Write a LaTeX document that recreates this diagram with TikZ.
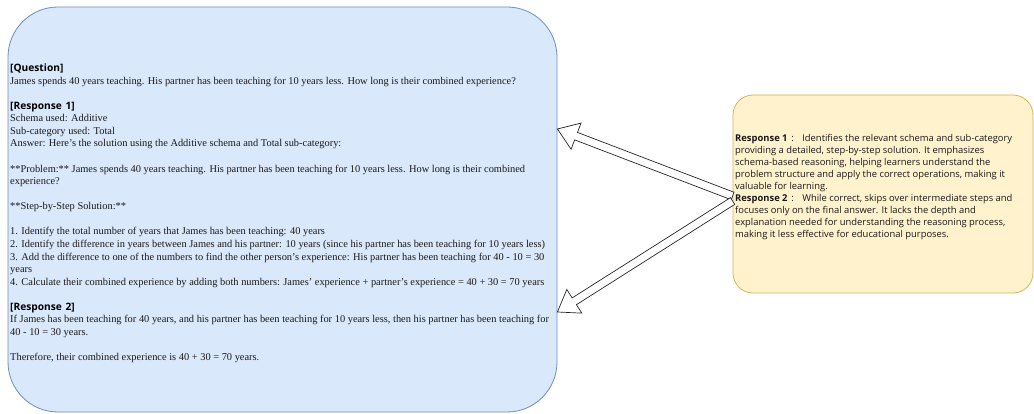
\documentclass[tikz,border=0pt]{standalone}
\usepackage{fontspec}
\setmainfont{Liberation Serif}
\newfontfamily\cfont{Open Sans}
\usetikzlibrary{calc}
\definecolor{bfill}{HTML}{DAE8FC}
\definecolor{bdraw}{HTML}{6C8EBF}
\definecolor{yfill}{HTML}{FFF2CC}
\definecolor{ydraw}{HTML}{D6B656}
\tikzset{
  bline/.style={anchor=base west, inner sep=0pt, text=black!90, font={\fontsize{10.4}{12}\selectfont}},
  bhead/.style={anchor=base west, inner sep=0pt, text=black, font={\cfont\bfseries\fontsize{10.2}{12}\selectfont}},
  yline/.style={anchor=base west, inner sep=0pt, text=black!90, font={\cfont\fontsize{9.4}{12}\selectfont}},
  bluebox/.style={draw=bdraw, fill=bfill, rounded corners=50pt, line width=0.8pt, minimum width=549pt, minimum height=405pt, inner sep=0pt},
  yellowbox/.style={draw=ydraw, fill=yfill, rounded corners=20pt, line width=0.8pt, minimum width=300pt, minimum height=198pt, inner sep=0pt},
  blockarrow/.style={draw=black!85, fill=white, line width=0.7pt, line join=miter}
}
\newcommand{\bl}[1]{\fpeval{71.5+12.57*#1}}
\newcommand{\yl}[1]{\fpeval{142+12*#1}}
\begin{document}
\begin{tikzpicture}[x=1pt,y=-1pt]
\useasboundingbox (0,0) rectangle (1034,414);
\clip (0,0) rectangle (1034,414);
\fill[white] (0,0) rectangle (1034,414);
% boxes
\node[bluebox] (bbox) at (282.5,209.5) {};
\node[yellowbox] (ybox) at (883,194) {};
% blue box text
\node[bhead] (b0) at (10,\bl{0}) {[Question]};
\node[bline] (b1) at (10,\bl{1}) {James spends 40 years teaching. His partner has been teaching for 10 years less. How long is their combined experience?};
\node[bhead] (b3) at (10,\bl{3}) {[Response\hspace{0.35em}1]};
\node[bline] (b4) at (10,\bl{4}) {Schema used: Additive};
\node[bline] (b5) at (10,\bl{5}) {Sub-category used: Total};
\node[bline] (b6) at (10,\bl{6}) {Answer: Here's the solution using the Additive schema and Total sub-category:};
\node[bline] (b8) at (10,\bl{8}) {**Problem:** James spends 40 years teaching. His partner has been teaching for 10 years less. How long is their combined};
\node[bline] (b9) at (10,\bl{9}) {experience?};
\node[bline] (b11) at (10,\bl{11}) {**Step-by-Step Solution:**};
\node[bline] (b13) at (10,\bl{13}) {1. Identify the total number of years that James has been teaching: 40 years};
\node[bline] (b14) at (10,\bl{14}) {2. Identify the difference in years between James and his partner: 10 years (since his partner has been teaching for 10 years less)};
\node[bline] (b15) at (10,\bl{15}) {3. Add the difference to one of the numbers to find the other person's experience: His partner has been teaching for 40 - 10 = 30};
\node[bline] (b16) at (10,\bl{16}) {years};
\node[bline] (b17) at (10,\bl{17}) {4. Calculate their combined experience by adding both numbers: James' experience + partner's experience = 40 + 30 = 70 years};
\node[bhead] (b19) at (10,\bl{19}) {[Response\hspace{0.35em}2]};
\node[bline] (b20) at (10,\bl{20}) {If James has been teaching for 40 years, and his partner has been teaching for 10 years less, then his partner has been teaching for};
\node[bline] (b21) at (10,\bl{21}) {40 - 10 = 30 years.};
\node[bline] (b23) at (10,\bl{23}) {Therefore, their combined experience is 40 + 30 = 70 years.};
% yellow box text
\node[yline] (y0) at (735,\yl{0}) {\textbf{Response 1}\hspace{0.4em}:\hspace{0.9em}Identifies the relevant schema and sub-category};
\node[yline] (y1) at (735,\yl{1}) {providing a detailed, step-by-step solution. It emphasizes};
\node[yline] (y2) at (735,\yl{2}) {schema-based reasoning, helping learners understand the};
\node[yline] (y3) at (735,\yl{3}) {problem structure and apply the correct operations, making it};
\node[yline] (y4) at (735,\yl{4}) {valuable for learning.};
\node[yline] (y5) at (735,\yl{5}) {\textbf{Response 2}\hspace{0.4em}:\hspace{0.9em}While correct, skips over intermediate steps and};
\node[yline] (y6) at (735,\yl{6}) {focuses only on the final answer. It lacks the depth and};
\node[yline] (y7) at (735,\yl{7}) {explanation needed for understanding the reasoning process,};
\node[yline] (y8) at (735,\yl{8}) {making it less effective for educational purposes.};
% arrow end points
\coordinate (tA) at (ybox.west |- 0,196);
\coordinate (pA) at (bbox.east |- 0,129);
\coordinate (tB) at (ybox.west |- 0,201);
\coordinate (pB) at (bbox.east |- 0,312);
\coordinate (hA) at ($(pA)!20pt!(tA)$);
\coordinate (hB) at ($(pB)!20pt!(tB)$);
\draw[blockarrow] ($(tA)!4pt!90:(pA)$) -- ($(hA)!4pt!90:(pA)$) -- ($(hA)!14pt!90:(pA)$) -- (pA)
  -- ($(hA)!14pt!-90:(pA)$) -- ($(hA)!4pt!-90:(pA)$) -- ($(tA)!4pt!-90:(pA)$) -- cycle;
\draw[blockarrow] ($(tB)!4pt!90:(pB)$) -- ($(hB)!4pt!90:(pB)$) -- ($(hB)!14pt!90:(pB)$) -- (pB)
  -- ($(hB)!14pt!-90:(pB)$) -- ($(hB)!4pt!-90:(pB)$) -- ($(tB)!4pt!-90:(pB)$) -- cycle;
\end{tikzpicture}
\end{document}
